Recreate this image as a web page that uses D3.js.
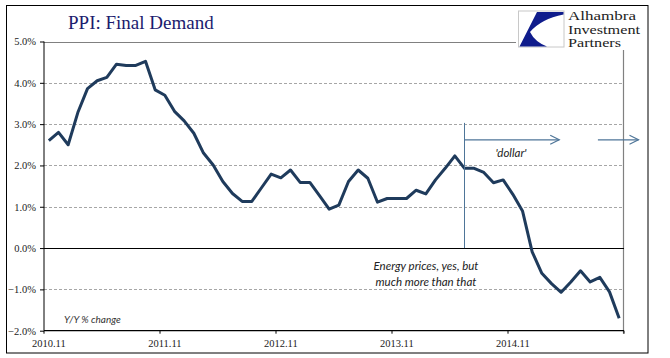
<!DOCTYPE html>
<html><head><meta charset="utf-8">
<script src="https://cdn.jsdelivr.net/npm/d3@7"></script>
<style>html,body{margin:0;padding:0;background:#fff;}svg{display:block;}</style>
</head><body>
<svg id="c" width="670" height="358"></svg>
<script>
const months = [
 "2010.11","2010.12","2011.01","2011.02","2011.03","2011.04","2011.05","2011.06","2011.07","2011.08","2011.09","2011.10",
 "2011.11","2011.12","2012.01","2012.02","2012.03","2012.04","2012.05","2012.06","2012.07","2012.08","2012.09","2012.10",
 "2012.11","2012.12","2013.01","2013.02","2013.03","2013.04","2013.05","2013.06","2013.07","2013.08","2013.09","2013.10",
 "2013.11","2013.12","2014.01","2014.02","2014.03","2014.04","2014.05","2014.06","2014.07","2014.08","2014.09","2014.10",
 "2014.11","2014.12","2015.01","2015.02","2015.03","2015.04","2015.05","2015.06","2015.07","2015.08","2015.09","2015.10"
];
const ppi = [
 2.6, 2.8, 2.5, 3.28, 3.86, 4.05, 4.13, 4.45, 4.42, 4.42, 4.52, 3.83,
 3.7, 3.31, 3.08, 2.78, 2.3, 2.01, 1.61, 1.32, 1.13, 1.13, 1.46, 1.79,
 1.7, 1.89, 1.59, 1.59, 1.27, 0.94, 1.04, 1.61, 1.89, 1.69, 1.11, 1.2,
 1.2, 1.2, 1.4, 1.31, 1.65, 1.93, 2.23, 1.93, 1.93, 1.83, 1.58, 1.65,
 1.3, 0.9, -0.09, -0.61, -0.86, -1.07, -0.82, -0.55, -0.82, -0.71, -1.06, -1.7
];
const yTicks = [-2, -1, 0, 1, 2, 3, 4, 5];
const xLabelMonths = ["2010.11","2011.11","2012.11","2013.11","2014.11"];
const title = "PPI: Final Demand";
const logoLines = ["Alhambra","Investment","Partners"];

const svg = d3.select("#c");
const L = 44, R = 624, T = 41.5, B = 330.7;
const x = d3.scaleBand().domain(months).range([L, R]).padding(0);
const xi = d3.scaleLinear().domain([0, months.length]).range([L, R]);
const y = d3.scaleLinear().domain([-2, 5]).range([B, T]);
const cx = m => x(m) + x.bandwidth()/2;

// outer border
svg.append("rect").attr("x",6.5).attr("y",5.5).attr("width",641.5).attr("height",347.5)
  .attr("fill","none").attr("stroke","#000").attr("stroke-width",1);

// gridlines
svg.append("g").selectAll("line").data(yTicks.filter(v => v !== 0 && v !== -2 && v !== 5)).join("line")
  .attr("x1",L).attr("x2",R).attr("y1",d=>Math.round(y(d))+0.5).attr("y2",d=>Math.round(y(d))+0.5)
  .attr("stroke","#a6a6a6").attr("stroke-dasharray","3,2").attr("stroke-width",1);
// top line (5%)
svg.append("line").attr("x1",L).attr("x2",516).attr("y1",Math.round(y(5))+0.5).attr("y2",Math.round(y(5))+0.5)
  .attr("stroke","#808080").attr("stroke-width",1.2);
// right edge
svg.append("line").attr("x1",R-0.5).attr("x2",R-0.5).attr("y1",50).attr("y2",B+3)
  .attr("stroke","#808080").attr("stroke-width",1.2);
// zero line
svg.append("line").attr("x1",L).attr("x2",R).attr("y1",Math.round(y(0))+0.5).attr("y2",Math.round(y(0))+0.5)
  .attr("stroke","#000").attr("stroke-width",1.2);

// y axis
const yAxis = svg.append("g").attr("transform",`translate(${L},0)`)
  .call(d3.axisLeft(y).tickValues(yTicks).tickSize(4).tickPadding(4).tickFormat(d => d3.format(".1f")(d) + "%"));
yAxis.select(".domain").attr("d", `M0,${T}V${B}`).attr("stroke","#000");
yAxis.selectAll("text").attr("font-family","Liberation Serif").attr("font-size","10.5px").attr("fill","#222");
yAxis.selectAll(".tick line").attr("stroke","#000");

// x axis line & ticks at boundaries
svg.append("line").attr("x1",L).attr("x2",R).attr("y1",B).attr("y2",B).attr("stroke","#000").attr("stroke-width",1.2);
svg.append("g").selectAll("line").data(d3.range(0, months.length+1, 12)).join("line")
  .attr("x1",d=>xi(d)).attr("x2",d=>xi(d)).attr("y1",B).attr("y2",B+3).attr("stroke","#000");
svg.append("g").selectAll("text").data(xLabelMonths).join("text")
  .attr("x",d=>cx(d)).attr("y",346.5).attr("text-anchor","middle")
  .attr("font-family","Liberation Serif").attr("font-size","10.5px").attr("fill","#222").text(d=>d);

// data line
const line = d3.line().x((d,i)=>cx(months[i])).y(d=>y(d));
svg.append("path").datum(ppi).attr("d",line).attr("fill","none")
  .attr("stroke","#1f3b5c").attr("stroke-width",3).attr("stroke-linejoin","round");

// annotations
const ac = "#4e7598";
const vx = cx("2014.06");
svg.append("line").attr("x1",vx).attr("x2",vx).attr("y1",y(3.03)).attr("y2",y(0)).attr("stroke",ac).attr("stroke-width",1);
function arrow(x1,x2,yy){
  svg.append("line").attr("x1",x1).attr("x2",x2).attr("y1",yy).attr("y2",yy).attr("stroke",ac).attr("stroke-width",1.2);
  svg.append("path").attr("d",`M${x2-9},${yy-4.5}L${x2},${yy}L${x2-9},${yy+4.5}`).attr("fill","none").attr("stroke",ac).attr("stroke-width",1.2);
}
const ay = y(2.62);
arrow(vx, xi(53.3), ay);
arrow(xi(57.3), xi(61.5), ay);
svg.append("text").attr("x",511).attr("y",157).attr("text-anchor","middle")
  .attr("font-family","Lato").attr("font-style","italic").attr("font-size","11.5px").attr("fill","#222").text("'dollar'");
svg.append("text").attr("x",426).attr("y",270).attr("text-anchor","middle")
  .attr("font-family","Lato").attr("font-style","italic").attr("font-size","11.5px").attr("fill","#222").text("Energy prices, yes, but");
svg.append("text").attr("x",426).attr("y",286).attr("text-anchor","middle")
  .attr("font-family","Lato").attr("font-style","italic").attr("font-size","11.5px").attr("fill","#222").text("much more than that");
svg.append("text").attr("x",64).attr("y",323).attr("font-family","Lato").attr("font-style","italic")
  .attr("font-size","10px").attr("fill","#333").text("Y/Y % change");

// title
svg.append("text").attr("x",68).attr("y",29).attr("font-family","Liberation Serif")
  .attr("font-size","19px").attr("fill","#1b1b6e").text(title);

// logo
const lg = svg.append("g");
lg.append("rect").attr("x",518.5).attr("y",11).attr("width",45.5).attr("height",36).attr("fill","#fff").attr("stroke","#c8c8c8");
lg.append("path").attr("d","M537,12 L563.5,12 L563.5,14.5 Q541,19 530,32 Q535,42 547,46.5 L519.5,46.5 Z").attr("fill","#0f1c8c");
const lens = [68, 72, 53];
const bases = [20, 33.5, 47];
lg.selectAll("text").data(logoLines).join("text").attr("x",568).attr("y",(d,i)=>bases[i])
  .attr("font-family","Liberation Serif").attr("font-size","12px").attr("fill","#222")
  .attr("textLength",(d,i)=>lens[i]).attr("lengthAdjust","spacingAndGlyphs").text(d=>d);
</script>
</body></html>
